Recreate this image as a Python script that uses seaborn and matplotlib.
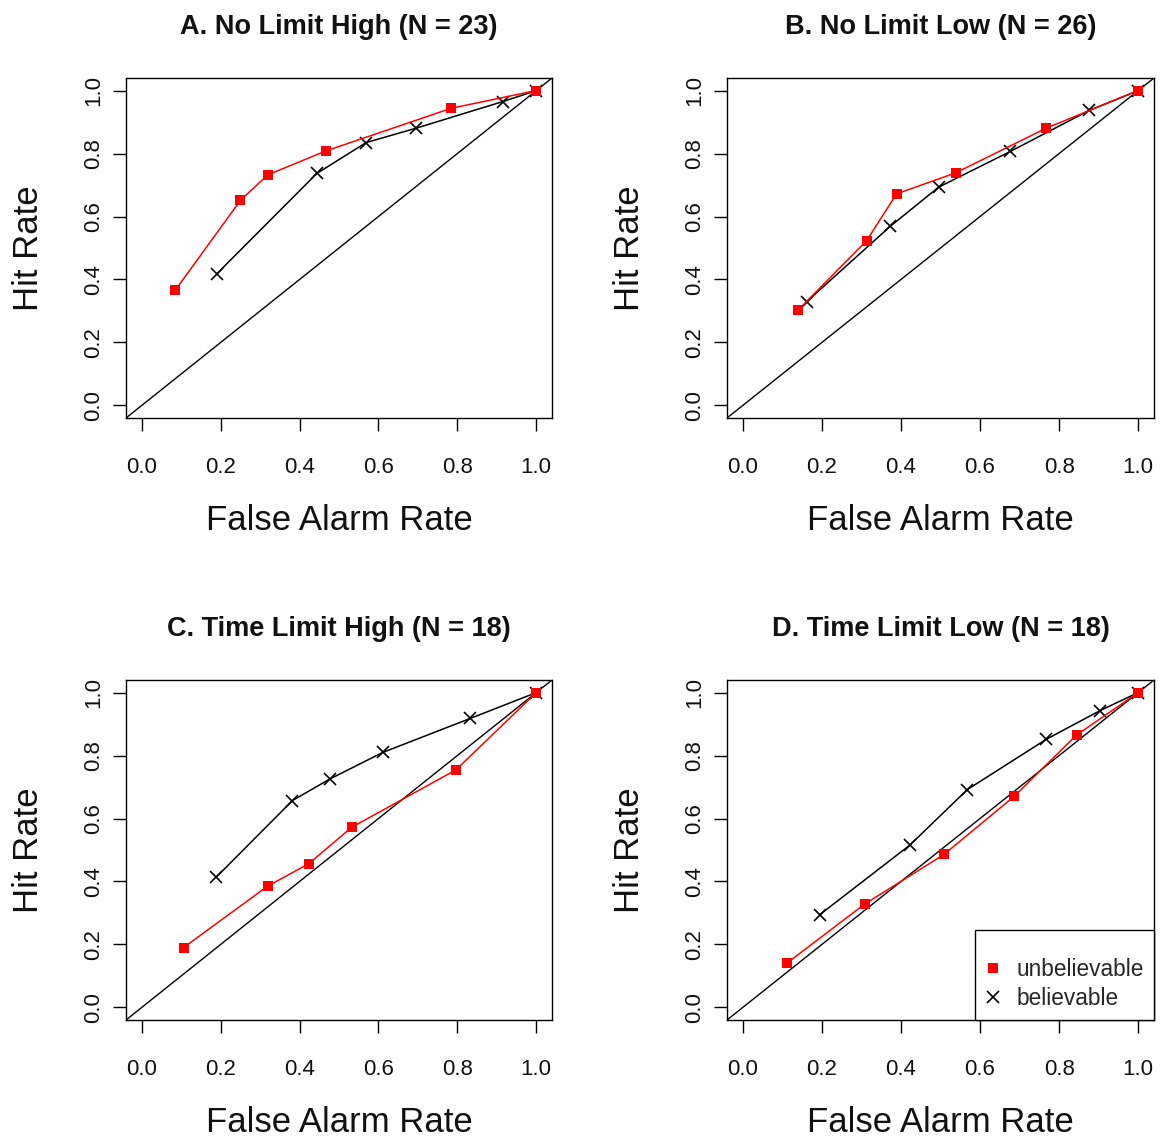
import matplotlib
matplotlib.use("Agg")
import matplotlib.pyplot as plt
from matplotlib.lines import Line2D
import seaborn as sns
import pandas as pd

# ROC points per condition: false alarm rate / hit rate
titles = [
    "A. No Limit High (N = 23)",
    "B. No Limit Low (N = 26)",
    "C. Time Limit High (N = 18)",
    "D. Time Limit Low (N = 18)",
]

unbel_fa = [
    [0.085, 0.250, 0.319, 0.466, 0.785, 1.0],
    [0.140, 0.313, 0.389, 0.539, 0.768, 1.0],
    [0.106, 0.319, 0.424, 0.532, 0.796, 1.0],
    [0.113, 0.308, 0.509, 0.686, 0.844, 1.0],
]
unbel_hit = [
    [0.366, 0.651, 0.732, 0.808, 0.944, 1.0],
    [0.303, 0.523, 0.672, 0.739, 0.881, 1.0],
    [0.190, 0.385, 0.457, 0.572, 0.754, 1.0],
    [0.142, 0.328, 0.486, 0.670, 0.865, 1.0],
]
bel_fa = [
    [0.191, 0.444, 0.569, 0.694, 0.915, 1.0],
    [0.162, 0.373, 0.495, 0.677, 0.876, 1.0],
    [0.189, 0.382, 0.476, 0.611, 0.833, 1.0],
    [0.195, 0.422, 0.568, 0.768, 0.904, 1.0],
]
bel_hit = [
    [0.419, 0.737, 0.835, 0.880, 0.965, 1.0],
    [0.330, 0.569, 0.693, 0.807, 0.937, 1.0],
    [0.414, 0.657, 0.725, 0.810, 0.918, 1.0],
    [0.295, 0.515, 0.692, 0.852, 0.943, 1.0],
]
ticks = [0.0, 0.2, 0.4, 0.6, 0.8, 1.0]
tick_labels = ["0.0", "0.2", "0.4", "0.6", "0.8", "1.0"]

sns.set_theme(style="white")
plt.rcParams["font.family"] = ["Liberation Sans", "DejaVu Sans"]

W, H = 1167, 1138
fig = plt.figure(figsize=(W / 100, H / 100), dpi=100)

# panel boxes in pixels: left, top, right, bottom
boxes = [
    (126, 78, 552, 418),
    (727, 78, 1154, 418),
    (126, 680, 552, 1020),
    (727, 680, 1154, 1020),
]

for i, (l, t, r, b) in enumerate(boxes):
    ax = fig.add_axes([l / W, 1 - b / H, (r - l) / W, (b - t) / H])
    ax.axline((0, 0), (1, 1), color="black", lw=1.0, zorder=1)

    df_b = pd.DataFrame({"fa": bel_fa[i], "hit": bel_hit[i]})
    df_u = pd.DataFrame({"fa": unbel_fa[i], "hit": unbel_hit[i]})
    sns.lineplot(data=df_b, x="fa", y="hit", ax=ax, sort=False, estimator=None,
                 color="black", lw=1.1, marker="x", markersize=9,
                 markeredgewidth=1.2, markeredgecolor="black", zorder=2)
    sns.lineplot(data=df_u, x="fa", y="hit", ax=ax, sort=False, estimator=None,
                 color="red", lw=1.1, marker="s", markersize=7.8,
                 markeredgewidth=0, markerfacecolor="red", zorder=3)

    ax.set_xlim(-0.04, 1.04)
    ax.set_ylim(-0.04, 1.04)
    ax.set_xticks(ticks)
    ax.set_xticklabels(tick_labels)
    ax.set_yticks(ticks)
    ax.set_yticklabels(tick_labels, rotation=90, va="center")
    for s in ax.spines.values():
        s.set_color("black")
        s.set_linewidth(1.0)
        s.set_visible(True)
    ax.tick_params(axis="both", which="major", direction="out", length=9.5,
                   width=1.0, color="black", labelsize=16, labelcolor="#111111",
                   bottom=True, left=True)
    ax.tick_params(axis="x", pad=18.5)
    ax.tick_params(axis="y", pad=6)
    ax.set_xlabel("False Alarm Rate", fontsize=25, labelpad=18.5, color="#111111")
    ax.set_ylabel("Hit Rate", fontsize=25, labelpad=28, color="#111111")
    ax.set_title(titles[i], fontsize=19.5, fontweight="bold", pad=31.5, color="#111111")
    ax.grid(False)

    if i == 3:
        handles = [
            Line2D([], [], ls="none", marker="s", color="red", markersize=7.5,
                   markeredgewidth=0),
            Line2D([], [], ls="none", marker="x", color="black", markersize=9,
                   markeredgewidth=1.2),
        ]
        leg = ax.legend(handles, ["unbelievable", "believable"], loc="lower right",
                        borderaxespad=0, fancybox=False, frameon=True,
                        fontsize=16.3, handlelength=0.7, handletextpad=0.7,
                        borderpad=0.45, labelspacing=0.25,
                        title=" ", title_fontsize=9)
        leg.get_frame().set_edgecolor("black")
        leg.get_frame().set_linewidth(1.0)
        leg.get_frame().set_alpha(1)

fig.savefig("out.png", dpi=100, facecolor="white")
